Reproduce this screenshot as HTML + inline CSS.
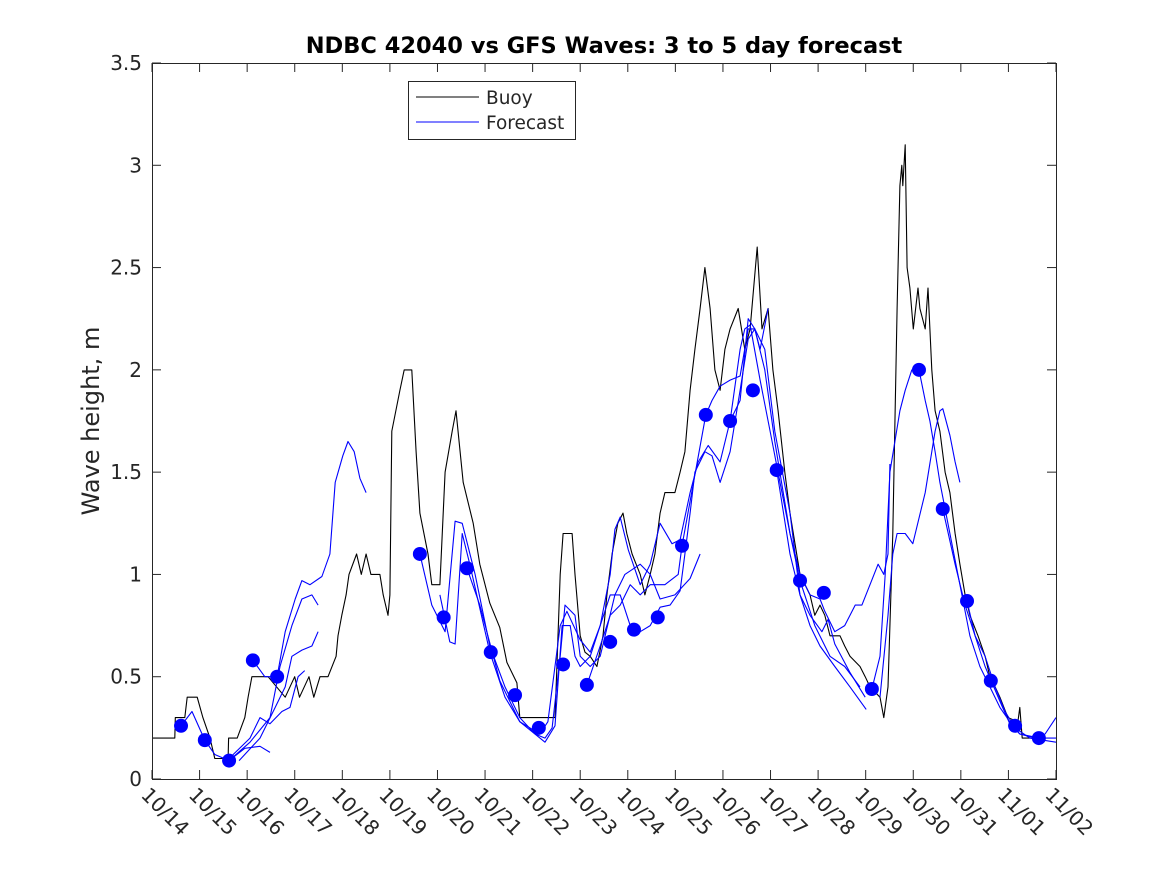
<!DOCTYPE html>
<html><head><meta charset="utf-8"><style>
html,body{margin:0;padding:0;background:#fff;width:1167px;height:875px;overflow:hidden}
svg{display:block;font-family:"DejaVu Sans","Liberation Sans",sans-serif}
</style></head><body>
<svg id="chart" width="1167" height="875" viewBox="0 0 1167 875">
<rect x="0" y="0" width="1167" height="875" fill="#fff"/>
<text x="604" y="53" text-anchor="middle" font-size="22.5" font-weight="bold">NDBC 42040 vs GFS Waves: 3 to 5 day forecast</text>
<text transform="translate(99,421) rotate(-90)" text-anchor="middle" font-size="24" fill="#262626">Wave height, m</text>
<g id="plot"></g>
<rect x="152.5" y="63.5" width="904" height="716" fill="none" stroke="#262626" stroke-width="1"/>
<g>
<rect x="408.5" y="81.5" width="167" height="58" fill="#fff" stroke="#262626"/>
<line x1="416" y1="97" x2="479" y2="97" stroke="#000"/>
<text x="486" y="104" font-size="18.5" fill="#262626">Buoy</text>
<line x1="416" y1="122" x2="479" y2="122" stroke="#0000ff"/>
<text x="486" y="129" font-size="18.5" fill="#262626">Forecast</text>
</g>
</svg>
<script>
const xTickLabels=["10/14","10/15","10/16","10/17","10/18","10/19","10/20","10/21","10/22","10/23","10/24","10/25","10/26","10/27","10/28","10/29","10/30","10/31","11/01","11/02"];
const yTicks=[0,0.5,1,1.5,2,2.5,3,3.5];
const yTickLabels=["0","0.5","1","1.5","2","2.5","3","3.5"];
const buoyDays=[0,0.48,0.49,0.69,0.74,0.95,1.07,1.22,1.32,1.60,1.61,1.79,1.95,2.02,2.10,2.44,2.80,3.0,3.1,3.3,3.4,3.53,3.70,3.87,3.91,3.99,4.08,4.14,4.3,4.4,4.5,4.6,4.79,4.86,4.96,5.00,5.04,5.21,5.30,5.46,5.55,5.63,5.80,5.88,6.05,6.16,6.31,6.39,6.54,6.75,6.89,7.10,7.31,7.46,7.67,7.73,8.47,8.51,8.58,8.64,8.83,8.89,9.00,9.10,9.21,9.35,9.48,9.56,9.67,9.79,9.90,9.98,10.09,10.26,10.36,10.47,10.57,10.68,10.78,10.99,11.10,11.20,11.31,11.41,11.52,11.62,11.73,11.83,11.94,12.04,12.15,12.32,12.46,12.57,12.72,12.82,12.95,13.05,13.16,13.30,13.41,13.62,13.83,13.93,14.04,14.14,14.25,14.46,14.56,14.67,14.88,14.99,15.09,15.30,15.38,15.47,15.57,15.66,15.72,15.76,15.78,15.83,15.87,15.93,16.00,16.10,16.14,16.25,16.31,16.39,16.46,16.56,16.67,16.77,16.88,16.98,17.09,17.19,17.36,17.51,17.61,17.72,17.82,17.99,18.20,18.24,18.29,18.45];
const buoyValues=[0.2,0.2,0.3,0.3,0.4,0.4,0.3,0.2,0.1,0.1,0.2,0.2,0.3,0.4,0.5,0.5,0.4,0.5,0.4,0.5,0.4,0.5,0.5,0.6,0.7,0.8,0.9,1.0,1.1,1.0,1.1,1.0,1.0,0.9,0.8,0.9,1.7,1.9,2.0,2.0,1.6,1.3,1.1,0.95,0.95,1.5,1.7,1.8,1.45,1.25,1.05,0.86,0.74,0.57,0.47,0.3,0.3,0.55,1.0,1.2,1.2,1.0,0.7,0.62,0.6,0.55,0.7,0.9,1.1,1.25,1.3,1.2,1.1,1.0,0.9,1.0,1.1,1.3,1.4,1.4,1.5,1.6,1.9,2.1,2.3,2.5,2.3,2.0,1.9,2.1,2.2,2.3,2.1,2.2,2.6,2.2,2.3,2.0,1.8,1.5,1.3,1.0,0.9,0.8,0.85,0.8,0.7,0.7,0.65,0.6,0.55,0.5,0.45,0.4,0.3,0.45,1.2,2.3,2.9,3.0,2.9,3.1,2.5,2.4,2.2,2.4,2.3,2.2,2.4,2.0,1.8,1.7,1.5,1.4,1.2,1.05,0.9,0.8,0.7,0.6,0.5,0.45,0.4,0.3,0.28,0.35,0.2,0.2];
const dotDays=[0.61,1.11,1.62,2.12,2.63,5.63,6.13,6.62,7.12,7.63,8.13,8.64,9.14,9.63,10.13,10.63,11.14,11.64,12.15,12.63,13.13,13.62,14.12,15.13,16.12,16.62,17.13,17.63,18.14,18.64];
const dotValues=[0.26,0.19,0.09,0.58,0.50,1.10,0.79,1.03,0.62,0.41,0.25,0.56,0.46,0.67,0.73,0.79,1.14,1.78,1.75,1.90,1.51,0.97,0.91,0.44,2.00,1.32,0.87,0.48,0.26,0.20];
const fc0Days=[0.61,0.84,1.11,1.32,1.62,1.95,2.27,2.48];
const fc0Values=[0.26,0.33,0.19,0.12,0.09,0.15,0.16,0.13];
const fcADays=[2.12,2.37,2.63,2.80,3.01,3.15,3.32,3.57,3.74,3.85,4.01,4.12,4.25,4.37,4.50];
const fcAValues=[0.58,0.5,0.5,0.72,0.88,0.97,0.95,0.99,1.1,1.45,1.58,1.65,1.6,1.47,1.40];
const fcBDays=[1.62,2.06,2.48,2.69,2.94,3.15,3.36,3.49];
const fcBValues=[0.09,0.18,0.3,0.55,0.75,0.88,0.9,0.85];
const fcCDays=[1.83,2.27,2.59,2.80,2.94,3.15,3.36,3.49];
const fcCValues=[0.09,0.2,0.35,0.45,0.6,0.63,0.65,0.72];
const fcDDays=[1.62,2.06,2.27,2.48,2.73,2.90,3.07,3.21];
const fcDValues=[0.1,0.2,0.3,0.27,0.33,0.35,0.5,0.53];
const fcEDays=[5.63,5.88,6.16,6.37,6.52,6.79,7.10,7.42,7.73,8.05,8.26,8.41,8.58,8.68,8.89,9.00,9.21,9.42,9.73,9.94,10.26,10.47,10.68,10.99,11.31,11.52];
const fcEValues=[1.1,0.85,0.72,1.26,1.25,1.0,0.65,0.45,0.3,0.22,0.2,0.25,0.6,0.85,0.8,0.6,0.55,0.6,0.9,1.0,1.05,1.0,0.88,0.9,0.98,1.1];
const fcFDays=[6.05,6.26,6.37,6.52,6.68,7.10,7.42,7.73,8.26,8.47,8.62,8.79,8.89,9.00,9.21,9.63,9.84,10.05,10.26,10.47,10.68,10.89,11.10,11.20,11.31,11.41,11.62,11.77,11.94,12.15,12.36,12.53,12.67,12.88,13.09,13.41,13.62,13.83,14.04,14.35,14.67,15.01];
const fcFValues=[0.9,0.67,0.66,1.2,1.05,0.62,0.4,0.28,0.18,0.26,0.75,0.75,0.6,0.55,0.6,0.9,0.9,0.75,0.72,0.75,0.84,0.85,0.92,1.1,1.3,1.5,1.6,1.58,1.45,1.6,1.9,2.15,2.2,2.1,1.7,1.3,0.9,0.75,0.65,0.55,0.45,0.34];
const fcGDays=[6.62,6.89,7.31,7.73,8.15,8.32,8.58,8.72,9.00,9.21,9.42,9.63,9.73,9.84,10.01,10.26,10.47,10.68,10.93,11.10,11.31,11.48,11.69,11.94,12.15,12.36,12.53,12.67,12.88,13.09,13.41,13.62,13.93,14.25,14.56,14.88];
const fcGValues=[1.03,0.85,0.48,0.28,0.22,0.28,0.75,0.82,0.68,0.62,0.75,1.0,1.22,1.28,1.12,0.95,1.05,1.25,1.15,1.17,1.4,1.55,1.63,1.55,1.75,1.85,2.25,2.2,2.0,1.65,1.2,0.97,0.75,0.6,0.55,0.45];
const fcHDays=[9.14,9.42,9.63,9.84,10.05,10.26,10.47,10.78,11.06,11.14,11.64,11.77,11.94,12.15,12.36,12.53,12.67,12.78,12.95];
const fcHValues=[0.46,0.65,0.8,0.85,0.95,0.9,0.95,0.95,1.0,1.14,1.78,1.85,1.92,1.95,1.97,2.2,2.2,2.1,2.3];
const fcH2Days=[12.15,12.36,12.46,12.57,12.78,12.99,13.20,13.41,13.62,13.83,14.04,14.14,14.35,14.56,14.78,14.92,15.09,15.26,15.38,15.47,15.51];
const fcH2Values=[1.75,2.1,2.2,2.22,1.95,1.7,1.45,1.2,1.0,0.9,0.88,0.82,0.72,0.75,0.85,0.85,0.95,1.05,1.0,1.1,1.54];
const fcIDays=[13.13,13.41,13.62,13.83,14.08,14.21,14.35,14.67,14.99];
const fcIValues=[1.51,1.1,0.9,0.8,0.72,0.78,0.66,0.52,0.4];
const fcI2Days=[15.13,15.30,15.41,15.51,15.72,15.83,15.97,16.12,16.25,16.35,16.46,16.56,16.67,16.77,16.98,17.19,17.40,17.61,17.82,18.03,18.24,18.66,19.0];
const fcI2Values=[0.44,0.6,1.0,1.5,1.8,1.9,2.0,2.0,1.85,1.75,1.6,1.45,1.32,1.2,0.95,0.7,0.55,0.45,0.35,0.28,0.22,0.2,0.2];
const fcJDays=[15.30,15.47,15.57,15.66,15.83,15.99,16.25,16.46,16.56,16.62,16.77,16.88,16.98];
const fcJValues=[0.4,0.8,1.1,1.2,1.2,1.15,1.4,1.7,1.8,1.81,1.68,1.55,1.45];
const fcKDays=[16.62,16.88,17.09,17.30,17.51,17.82,18.03,18.24,18.56,18.77,19.0];
const fcKValues=[1.32,1.05,0.85,0.7,0.55,0.38,0.27,0.22,0.2,0.22,0.3];
const fcLDays=[17.13,17.30,17.51,17.72,17.93,18.14,18.45,19.0];
const fcLValues=[0.87,0.7,0.6,0.45,0.33,0.25,0.2,0.18];

const X0=152,X1=1056,Y0=779,Y1=63;
const xScale=d=>X0+(X1-X0)*d/19;
const yScale=v=>Y0-(Y0-Y1)*v/3.5;
const NS="http://www.w3.org/2000/svg";
const plot=document.getElementById('plot');
function mk(tag,attrs){const e=document.createElementNS(NS,tag);for(const k in attrs)e.setAttribute(k,attrs[k]);return e;}

xTickLabels.forEach((lab,i)=>{
  const x=xScale(i);
  const t=mk('line',{x1:x,y1:Y0,x2:x,y2:Y0-9,stroke:'#262626'});
  
  
  plot.appendChild(t);
  const t2=mk('line',{x1:x,y1:Y1,x2:x,y2:Y1+9,stroke:'#262626'});
  
  
  plot.appendChild(t2);
  const tx=mk('text',{transform:`translate(${x-12},${Y0+17}) rotate(45)`,'font-size':'20','fill':'#262626'});
  tx.textContent=lab;
  
  
  plot.appendChild(tx);
});
yTicks.forEach((v,i)=>{
  const y=yScale(v);
  const t=mk('line',{x1:X0,y1:y,x2:X0+9,y2:y,stroke:'#262626'});
  
  
  plot.appendChild(t);
  const t2=mk('line',{x1:X1,y1:y,x2:X1-9,y2:y,stroke:'#262626'});
  
  
  plot.appendChild(t2);
  const tx=mk('text',{x:X0-10,y:y+7,'text-anchor':'end','font-size':'20',fill:'#262626'});
  tx.textContent=yTickLabels[i];
  
  
  plot.appendChild(tx);
});
function line(days,vals,color,name){
  const pts=days.map((d,i)=>xScale(d).toFixed(1)+','+yScale(vals[i]).toFixed(1)).join(' ');
  const p=mk('polyline',{points:pts,fill:'none',stroke:color,'stroke-width':'1.1','stroke-linejoin':'round'});
  
  
  plot.appendChild(p);
}
line(buoyDays,buoyValues,'#000','buoy-line');
const fcs=[[fc0Days,fc0Values],[fcADays,fcAValues],[fcBDays,fcBValues],[fcCDays,fcCValues],[fcDDays,fcDValues],[fcEDays,fcEValues],[fcFDays,fcFValues],[fcGDays,fcGValues],[fcHDays,fcHValues],[fcH2Days,fcH2Values],[fcIDays,fcIValues],[fcI2Days,fcI2Values],[fcJDays,fcJValues],[fcKDays,fcKValues],[fcLDays,fcLValues]];
fcs.forEach(f=>line(f[0],f[1],'#0000ff','forecast-line'));
dotDays.forEach((d,i)=>{
  const c=mk('circle',{cx:xScale(d),cy:yScale(dotValues[i]),r:7,fill:'#0000ff'});
  
  
  plot.appendChild(c);
});
</script>
</body></html>
